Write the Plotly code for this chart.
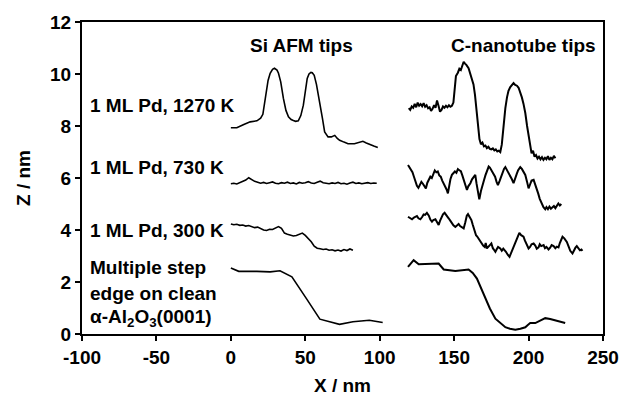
import plotly.graph_objects as go

# --- Si AFM tip profiles ---
si_1270_x = [0, 4, 8.7, 13, 17.5, 20, 21.5, 23, 25, 26.4,
             28, 29.3, 31, 32, 33.5, 35.3, 37, 38.7, 40.5, 42,
             43.5, 45.3, 47, 48.7, 50, 51.3, 52.5, 53.8, 54.7, 56,
             57.5, 59.8, 61.5, 63, 65.3, 67.5, 69.8, 71.5, 73.1, 76,
             78.7, 83, 86, 88.7, 91, 93, 96, 98.7]
si_1270_y = [7.93, 7.93, 8.06, 8.16, 8.20, 8.30, 8.45, 9.06, 9.75, 10.03,
             10.18, 10.22, 10.15, 10.03, 9.70, 9.06, 8.60, 8.35, 8.25, 8.21,
             8.18, 8.20, 8.40, 8.80, 9.35, 9.83, 10.00, 10.06, 10.05, 9.95,
             9.60, 8.93, 8.30, 7.77, 7.58, 7.58, 7.64, 7.52, 7.45, 7.38,
             7.32, 7.32, 7.36, 7.41, 7.35, 7.29, 7.23, 7.17]

si_730_x = [0, 2, 4, 6, 8, 10, 12, 14, 16, 18,
            20, 22, 24, 26, 28, 30, 32, 34, 36, 38,
            40, 42, 44, 46, 48, 50, 52, 54, 56, 58,
            60, 62, 64, 66, 68, 70, 72, 74, 76, 78,
            80, 82, 84, 86, 88, 90, 92, 94, 96, 98]
si_730_y = [5.78, 5.80, 5.77, 5.82, 5.86, 5.92, 6.01, 5.94, 5.87, 5.84,
            5.80, 5.83, 5.79, 5.82, 5.85, 5.80, 5.78, 5.82, 5.80, 5.84,
            5.79, 5.81, 5.77, 5.83, 5.80, 5.82, 5.86, 5.81, 5.79, 5.84,
            5.88, 5.82, 5.80, 5.78, 5.81, 5.79, 5.83, 5.78, 5.80, 5.76,
            5.81, 5.84, 5.79, 5.81, 5.78, 5.80, 5.82, 5.79, 5.81, 5.80]

si_300_x = [0, 2, 4, 6, 8, 10, 12, 14, 16, 18,
            20, 22, 24, 26, 28, 30, 32, 34, 36, 38,
            40, 42, 44, 46, 48, 50, 52, 54, 56, 58,
            60, 62, 64, 66, 68, 70, 72, 74, 76, 78,
            80, 82]
si_300_y = [4.23, 4.20, 4.22, 4.18, 4.19, 4.15, 4.17, 4.12, 4.09, 4.11,
            4.05, 4.00, 3.98, 4.03, 4.02, 4.08, 4.13, 4.06, 3.88, 3.84,
            3.80, 3.77, 3.79, 3.83, 3.88, 3.79, 3.68, 3.55, 3.38, 3.30,
            3.28, 3.25, 3.27, 3.22, 3.24, 3.20, 3.23, 3.19, 3.25, 3.21,
            3.27, 3.22]

si_clean_x = [0, 5.3, 17.5, 26.4, 33, 41, 51, 59.8, 73, 82, 93, 102]
si_clean_y = [2.54, 2.41, 2.41, 2.39, 2.43, 2.20, 1.34, 0.57, 0.37, 0.47, 0.53, 0.44]

# --- C-nanotube tip profiles ---
cnt_1270_x = [119.5, 120.5, 121.5, 122.5, 123.5, 124.5, 125.5, 126.5, 127.5, 128.5,
              129.5, 130.5, 131.5, 132.5, 133.5, 134.5, 135.5, 136.5, 137.5, 138.5,
              139.5, 140.5, 141.5, 142.5, 143.5, 144.5, 145.5, 146.5, 147.5, 148.5,
              149.5, 150.5, 151.2, 152.5, 153.5, 154.5, 155.5, 156.4, 157.3, 158.2,
              159.7, 161, 162, 163, 164, 165, 166, 167, 168, 169,
              170, 171, 172, 173, 174, 175, 176, 177, 178, 179,
              180, 181, 182, 183, 184.4, 185.5, 186.5, 187.7, 188.8, 189.9,
              191, 192.2, 193.3, 194.5, 195.5, 196.6, 197.8, 199, 200, 201,
              202, 203, 204, 205, 206, 207, 208, 209, 210, 211,
              212, 213, 214, 215, 216, 217, 218]
cnt_1270_y = [8.69, 8.62, 8.75, 8.70, 8.85, 8.72, 8.90, 8.78, 8.84, 8.76,
              8.88, 8.74, 8.80, 8.68, 8.72, 8.58, 8.66, 8.80, 8.70, 8.98,
              8.78, 8.55, 8.62, 8.75, 8.70, 8.78, 8.72, 8.80, 8.74, 8.78,
              8.90, 9.50, 9.92, 10.05, 10.20, 10.15, 10.38, 10.47, 10.40, 10.35,
              10.22, 10.00, 9.85, 9.60, 9.20, 8.70, 8.10, 7.50, 7.30, 7.36,
              7.22, 7.25, 7.15, 7.20, 7.12, 7.10, 7.14, 7.06, 7.10, 7.02,
              7.05, 7.00, 7.28, 7.90, 8.69, 9.10, 9.35, 9.50, 9.58, 9.65,
              9.58, 9.55, 9.47, 9.30, 9.10, 8.85, 8.50, 8.00, 7.66, 7.30,
              6.95, 7.05, 6.82, 6.88, 6.75, 6.82, 6.72, 6.80, 6.70, 6.78,
              6.72, 6.84, 6.70, 6.78, 6.72, 6.85, 6.76]

cnt_730_x = [119, 120, 121, 122, 123, 124, 125, 126, 127, 128,
             129, 130, 131, 132, 133, 134, 135, 136, 137, 138,
             139, 140, 141, 142, 143, 144, 145, 145.8, 146.5, 147.5,
             148.5, 149.5, 150.5, 151.5, 152.5, 153.5, 154.5, 155.5, 156.5, 157.5,
             158.6, 159.5, 160.9, 162, 163, 164.2, 165, 166, 166.9, 168,
             169, 170, 171, 172, 173.2, 174, 175, 176.5, 177.5, 178.5,
             179.4, 180.5, 181.5, 182.5, 183.5, 184.4, 185.5, 186.5, 187.7, 188.8,
             189.9, 191, 192, 193, 194.4, 195.5, 196.5, 197.8, 199, 200,
             201, 202, 203.4, 204.5, 205.6, 206.5, 207.5, 208.5, 209, 210,
             211.2, 212, 213, 214, 215, 216, 217, 218, 219, 220,
             221, 222]
cnt_730_y = [6.50, 6.40, 6.35, 6.22, 6.05, 5.85, 5.70, 5.62, 5.72, 5.85,
             5.78, 5.70, 5.60, 5.82, 5.95, 6.05, 6.00, 6.15, 6.29, 6.22,
             6.25, 6.10, 6.05, 5.90, 5.80, 5.70, 5.55, 5.41, 5.65, 5.95,
             6.12, 6.18, 6.25, 6.20, 6.34, 6.30, 6.26, 6.10, 5.90, 5.70,
             5.54, 5.68, 5.80, 5.95, 6.05, 6.12, 5.80, 5.45, 5.18, 5.50,
             5.75, 5.90, 6.10, 6.30, 6.44, 6.40, 6.30, 6.18, 6.05, 5.85,
             5.73, 5.88, 6.05, 6.20, 6.35, 6.42, 6.30, 6.20, 6.12, 5.95,
             5.80, 5.95, 6.15, 6.30, 6.42, 6.35, 6.25, 6.12, 5.85, 5.60,
             5.75, 5.90, 5.93, 5.75, 5.60, 5.40, 5.20, 5.05, 4.96, 4.88,
             4.80, 4.88, 4.80, 4.90, 4.82, 4.86, 4.92, 4.84, 4.95, 5.02,
             4.94, 5.00]

cnt_300_x = [119, 120, 121.7, 123, 124, 125, 126, 127.3, 128.5, 129.5,
             130.5, 131.7, 133, 134, 135.1, 136, 137.4, 138.5, 139.6, 140.5,
             141.5, 142.5, 143.6, 144.5, 145.5, 146.3, 147.5, 148.5, 149.5, 150.8,
             152, 153, 154, 155, 156.4, 157.5, 158.5, 159.3, 160.5, 161.6,
             162.5, 163.5, 164.7, 165.5, 166.5, 167.5, 168.7, 169.5, 170.5, 171.2,
             172, 173, 174, 175, 176, 177, 177.7, 178.5, 179.5, 181,
             182, 183, 184, 184.8, 186, 187.2, 188.5, 189.9, 191, 192,
             193, 193.8, 195, 196.6, 197.5, 198.5, 200, 201, 202, 203.4,
             204.5, 205.5, 206.7, 207.5, 208.5, 210.1, 211, 212, 213.4, 214.5,
             215.5, 216.8, 218, 219, 220.1, 221, 222, 222.8, 224, 225.7,
             227, 228, 229.5, 230.5, 231.5, 232.4, 233.5, 234.5, 235.5, 236.2]
cnt_300_y = [4.51, 4.46, 4.41, 4.48, 4.50, 4.54, 4.45, 4.41, 4.50, 4.60,
             4.58, 4.66, 4.55, 4.40, 4.32, 4.38, 4.41, 4.30, 4.19, 4.35,
             4.50, 4.60, 4.66, 4.60, 4.50, 4.45, 4.35, 4.25, 4.18, 4.12,
             4.20, 4.23, 4.15, 4.10, 4.06, 4.30, 4.55, 4.61, 4.50, 4.38,
             4.20, 4.00, 3.80, 3.75, 3.65, 3.60, 3.48, 3.40, 3.35, 3.50,
             3.29, 3.38, 3.42, 3.48, 3.30, 3.22, 3.16, 3.25, 3.35, 3.29,
             3.20, 3.28, 3.22, 3.16, 3.05, 2.97, 3.15, 3.35, 3.50, 3.70,
             3.85, 3.89, 3.80, 3.74, 3.60, 3.45, 3.29, 3.35, 3.45, 3.48,
             3.40, 3.28, 3.33, 3.45, 3.38, 3.42, 3.30, 3.35, 3.25, 3.32,
             3.42, 3.38, 3.30, 3.36, 3.33, 3.50, 3.65, 3.74, 3.68, 3.54,
             3.35, 3.20, 3.10, 3.22, 3.32, 3.38, 3.28, 3.22, 3.25, 3.20]

cnt_clean_x = [119, 122.8, 126.2, 133, 139.6, 143, 150.8, 159.7, 162.5, 165.3,
               168, 171, 174, 177.7, 181, 184.4, 187.5, 191.1, 194.5, 197.8,
               199.5, 201.1, 204.5, 207.5, 211.2, 214.5, 218, 221.5, 224.6]
cnt_clean_y = [2.58, 2.84, 2.68, 2.70, 2.71, 2.48, 2.42, 2.48, 2.35, 2.13,
               1.75, 1.36, 0.98, 0.59, 0.42, 0.26, 0.20, 0.16, 0.20, 0.26,
               0.35, 0.42, 0.42, 0.52, 0.61, 0.58, 0.52, 0.47, 0.42]

x_tickvals = [-100, -50, 0, 50, 100, 150, 200, 250]
x_ticktext = ["-100", "-50", "0", "50", "100", "150", "200", "250"]
y_tickvals = [0, 2, 4, 6, 8, 10, 12]

FONT = "Liberation Sans, Arial, sans-serif"
FS = 19

fig = go.Figure()

si_series = [(si_1270_x, si_1270_y), (si_730_x, si_730_y),
             (si_300_x, si_300_y), (si_clean_x, si_clean_y)]
cnt_series = [(cnt_1270_x, cnt_1270_y), (cnt_730_x, cnt_730_y),
              (cnt_300_x, cnt_300_y), (cnt_clean_x, cnt_clean_y)]

for xs, ys in si_series:
    fig.add_trace(go.Scatter(x=xs, y=ys, mode="lines",
                             line=dict(color="black", width=1.6), showlegend=False))
for xs, ys in cnt_series:
    fig.add_trace(go.Scatter(x=xs, y=ys, mode="lines",
                             line=dict(color="black", width=2), showlegend=False))

# text labels inside the plot
labels = [
    ("1 ML Pd, 1270 K", -96, 8.78),
    ("1 ML Pd, 730 K", -96, 6.42),
    ("1 ML Pd, 300 K", -96, 4.0),
    ("Multiple step", -96, 2.55),
    ("edge on clean", -96, 1.57),
    ("\u03b1-Al<sub>2</sub>O<sub>3</sub>(0001)", -96, 0.62),
]
for txt, x, y in labels:
    fig.add_annotation(x=x, y=y, text=txt, showarrow=False, xanchor="left",
                       yanchor="middle", font=dict(family=FONT, size=FS, color="black", weight="bold"))

fig.add_annotation(x=47.5, y=11.1, text="Si AFM tips", showarrow=False,
                   font=dict(family=FONT, size=FS, color="black", weight="bold"))
fig.add_annotation(x=196.5, y=11.1, text="C-nanotube tips", showarrow=False,
                   font=dict(family=FONT, size=FS, color="black", weight="bold"))

axis_style = dict(showline=True, linecolor="black", linewidth=2, mirror=True,
                  ticks="outside", ticklen=5, tickwidth=2, tickcolor="black",
                  showgrid=False, zeroline=False, automargin=False,
                  tickfont=dict(family=FONT, size=FS, color="black", weight="bold"))

fig.update_xaxes(range=[-100, 250], tickvals=x_tickvals, ticktext=x_ticktext,
                 title=dict(text="X / nm", standoff=12,
                            font=dict(family=FONT, size=FS, color="black", weight="bold")),
                 **axis_style)
fig.update_yaxes(range=[0, 12], tickvals=y_tickvals,
                 title=dict(text="Z / nm", standoff=14,
                            font=dict(family=FONT, size=FS, color="black", weight="bold")),
                 **axis_style)

fig.update_layout(
    width=622, height=407,
    margin=dict(l=82, r=19, t=22, b=73),
    plot_bgcolor="white", paper_bgcolor="white",
)

# drop the page's default body margin so the figure sits at the window corner
fig.write_html("out.html", config={"displayModeBar": False},
               post_script="document.body.style.margin='0';")
